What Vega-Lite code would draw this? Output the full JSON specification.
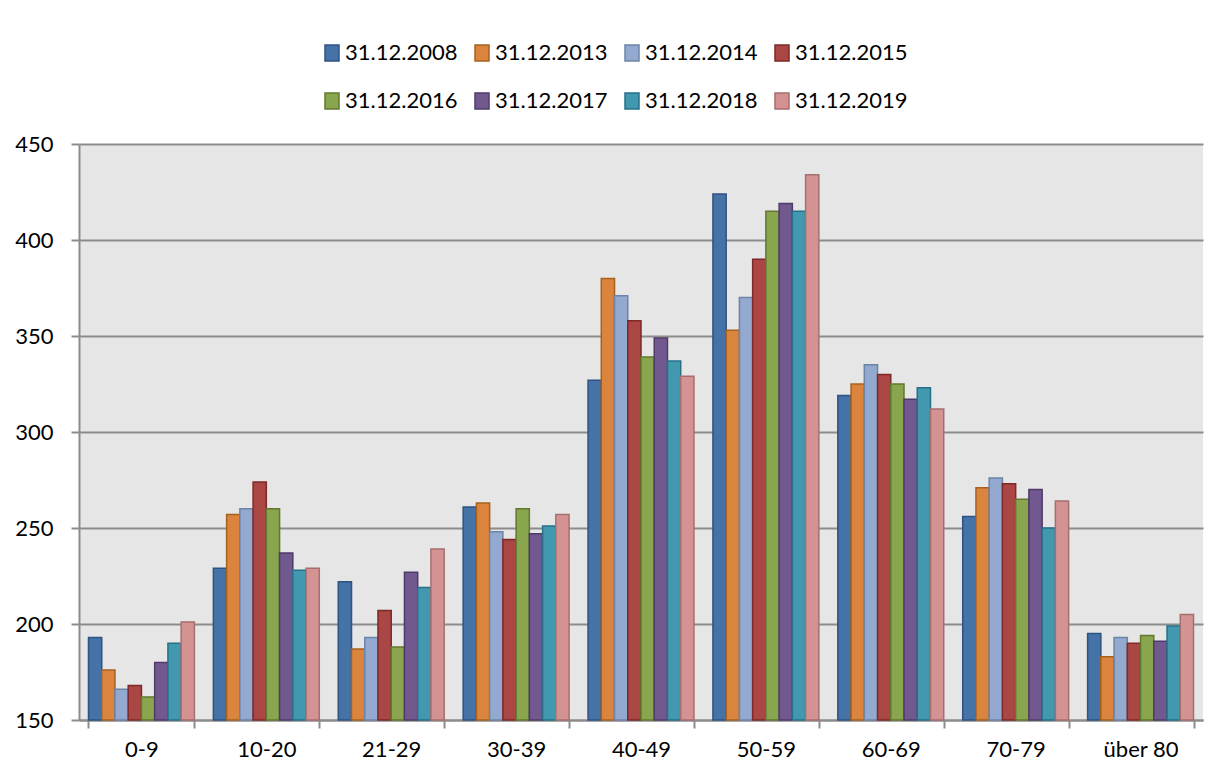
{
  "$schema": "https://vega.github.io/schema/vega-lite/v6.json",
  "width": 1124,
  "height": 576,
  "autosize": {"type": "none"},
  "padding": {"left": 79, "top": 144, "right": 12, "bottom": 49},
  "background": "white",
  "config": {
    "view": {"fill": "#E6E6E6", "stroke": null},
    "font": "Lato"
  },
  "data": {
    "values": [
      {"g": "0-9", "d": "31.12.2008", "v": 193}, {"g": "0-9", "d": "31.12.2013", "v": 176}, {"g": "0-9", "d": "31.12.2014", "v": 166}, {"g": "0-9", "d": "31.12.2015", "v": 168},
      {"g": "0-9", "d": "31.12.2016", "v": 162}, {"g": "0-9", "d": "31.12.2017", "v": 180}, {"g": "0-9", "d": "31.12.2018", "v": 190}, {"g": "0-9", "d": "31.12.2019", "v": 201},
      {"g": "10-20", "d": "31.12.2008", "v": 229}, {"g": "10-20", "d": "31.12.2013", "v": 257}, {"g": "10-20", "d": "31.12.2014", "v": 260}, {"g": "10-20", "d": "31.12.2015", "v": 274},
      {"g": "10-20", "d": "31.12.2016", "v": 260}, {"g": "10-20", "d": "31.12.2017", "v": 237}, {"g": "10-20", "d": "31.12.2018", "v": 228}, {"g": "10-20", "d": "31.12.2019", "v": 229},
      {"g": "21-29", "d": "31.12.2008", "v": 222}, {"g": "21-29", "d": "31.12.2013", "v": 187}, {"g": "21-29", "d": "31.12.2014", "v": 193}, {"g": "21-29", "d": "31.12.2015", "v": 207},
      {"g": "21-29", "d": "31.12.2016", "v": 188}, {"g": "21-29", "d": "31.12.2017", "v": 227}, {"g": "21-29", "d": "31.12.2018", "v": 219}, {"g": "21-29", "d": "31.12.2019", "v": 239},
      {"g": "30-39", "d": "31.12.2008", "v": 261}, {"g": "30-39", "d": "31.12.2013", "v": 263}, {"g": "30-39", "d": "31.12.2014", "v": 248}, {"g": "30-39", "d": "31.12.2015", "v": 244},
      {"g": "30-39", "d": "31.12.2016", "v": 260}, {"g": "30-39", "d": "31.12.2017", "v": 247}, {"g": "30-39", "d": "31.12.2018", "v": 251}, {"g": "30-39", "d": "31.12.2019", "v": 257},
      {"g": "40-49", "d": "31.12.2008", "v": 327}, {"g": "40-49", "d": "31.12.2013", "v": 380}, {"g": "40-49", "d": "31.12.2014", "v": 371}, {"g": "40-49", "d": "31.12.2015", "v": 358},
      {"g": "40-49", "d": "31.12.2016", "v": 339}, {"g": "40-49", "d": "31.12.2017", "v": 349}, {"g": "40-49", "d": "31.12.2018", "v": 337}, {"g": "40-49", "d": "31.12.2019", "v": 329},
      {"g": "50-59", "d": "31.12.2008", "v": 424}, {"g": "50-59", "d": "31.12.2013", "v": 353}, {"g": "50-59", "d": "31.12.2014", "v": 370}, {"g": "50-59", "d": "31.12.2015", "v": 390},
      {"g": "50-59", "d": "31.12.2016", "v": 415}, {"g": "50-59", "d": "31.12.2017", "v": 419}, {"g": "50-59", "d": "31.12.2018", "v": 415}, {"g": "50-59", "d": "31.12.2019", "v": 434},
      {"g": "60-69", "d": "31.12.2008", "v": 319}, {"g": "60-69", "d": "31.12.2013", "v": 325}, {"g": "60-69", "d": "31.12.2014", "v": 335}, {"g": "60-69", "d": "31.12.2015", "v": 330},
      {"g": "60-69", "d": "31.12.2016", "v": 325}, {"g": "60-69", "d": "31.12.2017", "v": 317}, {"g": "60-69", "d": "31.12.2018", "v": 323}, {"g": "60-69", "d": "31.12.2019", "v": 312},
      {"g": "70-79", "d": "31.12.2008", "v": 256}, {"g": "70-79", "d": "31.12.2013", "v": 271}, {"g": "70-79", "d": "31.12.2014", "v": 276}, {"g": "70-79", "d": "31.12.2015", "v": 273},
      {"g": "70-79", "d": "31.12.2016", "v": 265}, {"g": "70-79", "d": "31.12.2017", "v": 270}, {"g": "70-79", "d": "31.12.2018", "v": 250}, {"g": "70-79", "d": "31.12.2019", "v": 264},
      {"g": "über 80", "d": "31.12.2008", "v": 195}, {"g": "über 80", "d": "31.12.2013", "v": 183}, {"g": "über 80", "d": "31.12.2014", "v": 193}, {"g": "über 80", "d": "31.12.2015", "v": 190},
      {"g": "über 80", "d": "31.12.2016", "v": 194}, {"g": "über 80", "d": "31.12.2017", "v": 191}, {"g": "über 80", "d": "31.12.2018", "v": 199}, {"g": "über 80", "d": "31.12.2019", "v": 205}
    ]
  },
  "mark": {"type": "bar", "strokeWidth": 1.5},
  "encoding": {
    "x": {
      "field": "g", "type": "nominal",
      "sort": ["0-9", "10-20", "21-29", "30-39", "40-49", "50-59", "60-69", "70-79", "über 80"],
      "scale": {"paddingInner": 0.152, "paddingOuter": 0.076},
      "axis": {
        "title": null, "labelAngle": 0, "labelFontSize": 22, "labelColor": "#000000",
        "tickBand": "extent", "tickSize": 8, "tickColor": "#8C8C8C", "tickWidth": 2,
        "domainColor": "#8C8C8C", "domainWidth": 2, "labelPadding": 11
      }
    },
    "xOffset": {
      "field": "d", "type": "nominal",
      "scale": {"paddingInner": 0, "paddingOuter": 0}
    },
    "y": {
      "field": "v", "type": "quantitative",
      "scale": {"domain": [150, 450], "zero": false, "nice": false},
      "axis": {
        "title": null, "values": [150, 200, 250, 300, 350, 400, 450],
        "grid": true, "gridColor": "#8C8C8C", "gridWidth": 2,
        "tickSize": 8, "tickColor": "#8C8C8C", "tickWidth": 2,
        "domainColor": "#8C8C8C", "domainWidth": 2,
        "labelFontSize": 22, "labelColor": "#000000", "labelPadding": 18
      }
    },
    "y2": {"datum": 150},
    "fill": {
      "field": "d", "type": "nominal",
      "scale": {
        "domain": ["31.12.2008", "31.12.2013", "31.12.2014", "31.12.2015", "31.12.2016", "31.12.2017", "31.12.2018", "31.12.2019"],
        "range": ["#4572A7", "#DB843D", "#93A9CF", "#AA4643", "#89A54E", "#71588F", "#4198AF", "#D49392"]
      },
      "legend": {
        "orient": "none", "legendX": 242, "legendY": -102, "direction": "horizontal", "columns": 4,
        "title": null, "labelFontSize": 22, "labelColor": "#000000",
        "symbolType": "M-0.875,-1H0.875V1H-0.875Z", "symbolSize": 256, "symbolStrokeWidth": 1.5,
        "labelOffset": 2, "columnPadding": 13, "rowPadding": 26, "padding": 0
      }
    },
    "stroke": {
      "field": "d", "type": "nominal",
      "scale": {
        "domain": ["31.12.2008", "31.12.2013", "31.12.2014", "31.12.2015", "31.12.2016", "31.12.2017", "31.12.2018", "31.12.2019"],
        "range": ["#2F5380", "#A7611F", "#6D83A8", "#7D2A28", "#62782F", "#4F3B69", "#26708A", "#A56F6E"]
      },
      "legend": {
        "orient": "none", "legendX": 242, "legendY": -102, "direction": "horizontal", "columns": 4,
        "title": null, "labelFontSize": 22, "labelColor": "#000000",
        "symbolType": "M-0.875,-1H0.875V1H-0.875Z", "symbolSize": 256, "symbolStrokeWidth": 1.5,
        "labelOffset": 2, "columnPadding": 13, "rowPadding": 26, "padding": 0
      }
    }
  }
}
